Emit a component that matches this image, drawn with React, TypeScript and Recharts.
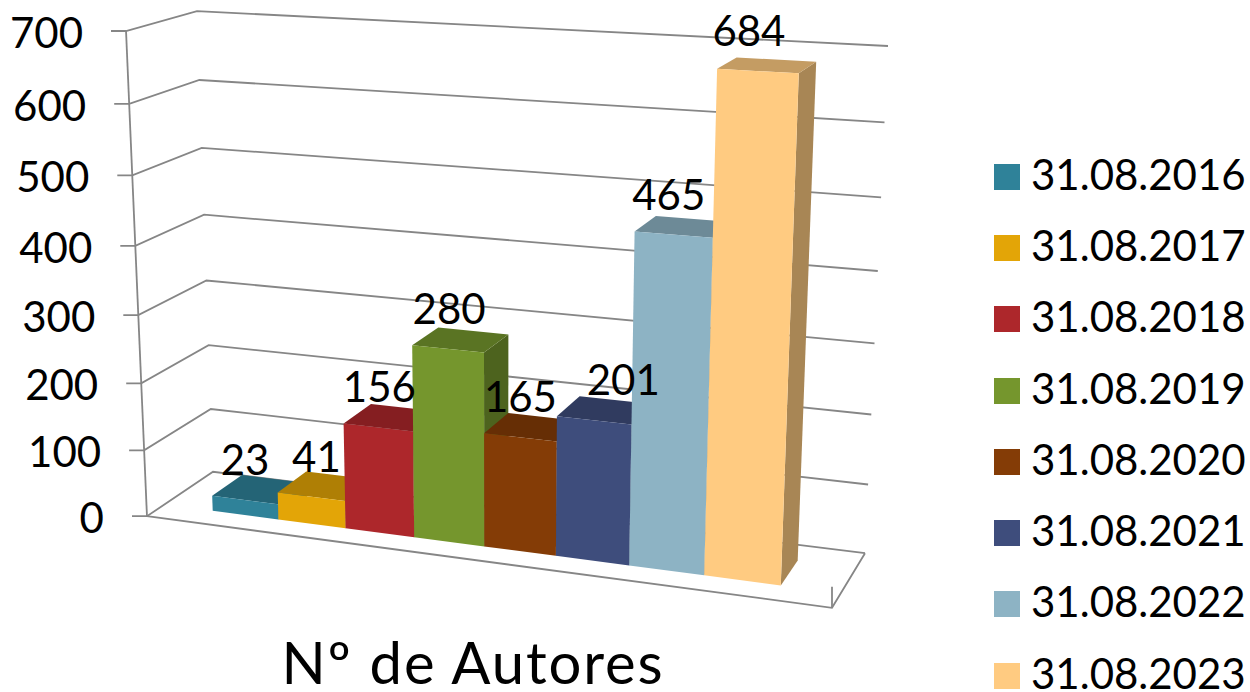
import React from 'react';
import { BarChart, Bar, XAxis, YAxis, CartesianGrid, Legend } from 'recharts';

const seriesNames = ['31.08.2016','31.08.2017','31.08.2018','31.08.2019','31.08.2020','31.08.2021','31.08.2022','31.08.2023'];
const seriesValues = [23, 41, 156, 280, 165, 201, 465, 684];
const seriesColors = ['#2F8299','#E3A507','#AD272B','#75962D','#843C06','#3E4D7C','#8DB3C4','#FFCB81'];
const categoryName = 'Nº de Autores';
const valueTicks = [0,100,200,300,400,500,600,700];
const labelNudgeX = [0, 5, 1, 1, 0, 29, -5, -9];

const FONT = 'Lato, sans-serif';
const W = 1250, H = 692;
const PLOT = { left: 147, right: 832, top: 31, bottom: 516 };
const GRID = '#868686';
const DEPTH = [0.255, 0.72];

const row: Record<string, any> = { name: categoryName };
seriesNames.forEach((n, i) => { row[n] = seriesValues[i]; });
const data = [row];

// camera calibration: cube corners (u, v, w) -> picture
const calib: number[][] = [
  [0,0,0,147,516],[1,0,0,832,608],[0,0,1,213,472],[1,0,1,865,553],
  [0,1,0,126,31],[0,1,1,197,11],[1,1,1,888,46],
];
function solveCamera(): number[] {
  const A: number[][] = [], b: number[] = [];
  calib.forEach(([u,v,w,x,y]) => {
    A.push([u,v,w,1,0,0,0,0,-x*u,-x*v,-x*w]); b.push(x);
    A.push([0,0,0,0,u,v,w,1,-y*u,-y*v,-y*w]); b.push(y);
  });
  const n = 11;
  const M: number[][] = [];
  for (let i = 0; i < n; i++) {
    const r: number[] = [];
    for (let j = 0; j < n; j++) r.push(A.reduce((s, a) => s + a[i]*a[j], 0));
    r.push(A.reduce((s, a, k) => s + a[i]*b[k], 0));
    M.push(r);
  }
  for (let i = 0; i < n; i++) {
    let p = i;
    for (let k = i+1; k < n; k++) if (Math.abs(M[k][i]) > Math.abs(M[p][i])) p = k;
    [M[i], M[p]] = [M[p], M[i]];
    for (let k = 0; k < n; k++) {
      if (k === i) continue;
      const f = M[k][i] / M[i][i];
      for (let j = i; j <= n; j++) M[k][j] -= f * M[i][j];
    }
  }
  return M.map((r, i) => r[n] / r[i]);
}
const C = solveCamera();
function project(u: number, v: number, w: number): [number, number] {
  const d = C[8]*u + C[9]*v + C[10]*w + 1;
  return [(C[0]*u + C[1]*v + C[2]*w + C[3]) / d, (C[4]*u + C[5]*v + C[6]*w + C[7]) / d];
}
const toU = (x: number) => (x - PLOT.left) / (PLOT.right - PLOT.left);
const toV = (y: number) => (PLOT.bottom - y) / (PLOT.bottom - PLOT.top);
const pts = (a: [number, number][]) => a.map((p) => p[0].toFixed(1) + ',' + p[1].toFixed(1)).join(' ');

function shade(hex: string, f: number) {
  const n = parseInt(hex.slice(1), 16);
  const c = [(n >> 16) & 255, (n >> 8) & 255, n & 255].map((x) => Math.round(x * f));
  return `rgb(${c[0]},${c[1]},${c[2]})`;
}

function Bar3D(props: any) {
  const { x, y, width, height, fill } = props;
  const u0 = toU(x), u1 = toU(x + width), v = toV(y), v0 = toV(y + height);
  const [w0, w1] = DEPTH;
  return (
    <g>
      <polygon fill={shade(fill, 0.66)} points={pts([project(u1,v0,w0), project(u1,v,w0), project(u1,v,w1), project(u1,v0,w1)])} />
      <polygon fill={shade(fill, 0.77)} points={pts([project(u0,v,w0), project(u1,v,w0), project(u1,v,w1), project(u0,v,w1)])} />
      <polygon fill={fill} points={pts([project(u0,v,w0), project(u1,v,w0), project(u1,v0,w0), project(u0,v0,w0)])} />
    </g>
  );
}

const makeLabel = (i: number) => (props: any) => {
  const { x, y, width, value } = props;
  const a = project(toU(x), toV(y), DEPTH[0]);
  const b = project(toU(x + width), toV(y), DEPTH[0]);
  return (
    <text x={(a[0] + b[0]) / 2 + labelNudgeX[i]} y={(a[1] + b[1]) / 2 - 41} textAnchor="middle" dominantBaseline="central"
      fontFamily={FONT} fontSize={42} fill="#000">{value}</text>
  );
};

function GridLine(props: any) {
  const v = toV(props.y1);
  const step = 1 / (valueTicks.length - 1);
  const fl = project(0, v, 0), bl = project(0, v, 1), br = project(1, v, 1);
  const up = project(0, Math.min(1, v + step), 0);
  return (
    <g fill="none" stroke={GRID} strokeWidth={1.8}>
      <polyline points={pts([[fl[0] - 15, fl[1]], fl, bl, br])} />
      <line x1={fl[0]} y1={fl[1]} x2={up[0]} y2={up[1]} />
      {v < 1e-6 && (
        <polyline points={pts([fl, project(1,0,0), project(1,0,1)])} />
      )}
      {v < 1e-6 && (
        <line x1={project(1,0,0)[0]} y1={project(1,0,0)[1]} x2={project(1,0,0)[0]} y2={project(1,0,0)[1] - 21} />
      )}
    </g>
  );
}

function YTick(props: any) {
  const p = project(0, toV(props.y), 0);
  return (
    <text x={p[0] - 43} y={p[1] + 1} textAnchor="end" dominantBaseline="central" fontFamily={FONT} fontSize={42} fill="#000">
      {props.payload.value}
    </text>
  );
}

function XTick(props: any) {
  return (
    <text x={473} y={661} textAnchor="middle" dominantBaseline="central" fontFamily={FONT} fontSize={58} letterSpacing={1.9} fill="#000">
      {props.payload.value}
    </text>
  );
}

function LegendBox(props: any) {
  return (
    <div style={{ fontFamily: FONT, fontSize: 42, color: '#000' }}>
      {(props.payload || []).map((e: any) => (
        <div key={e.value} style={{ height: 71.3, display: 'flex', alignItems: 'center', whiteSpace: 'nowrap' }}>
          <span style={{ width: 26, height: 26, background: e.color, marginRight: 11, flex: 'none' }} />
          <span style={{ position: 'relative', top: -3, left: 0 }}>{e.value}</span>
        </div>
      ))}
    </div>
  );
}

export default function App() {
  return (
    <div style={{ position: 'absolute', left: 0, top: 0, width: W, height: H, background: '#fff', overflow: 'hidden' }}>
      <BarChart width={W} height={H} data={data} margin={{ top: PLOT.top, left: 0, right: 163, bottom: 0 }}
        barCategoryGap="7.9%" barGap={0}>
        <CartesianGrid vertical={false} horizontal={(p: any) => <GridLine key={p.y1} {...p} />} />
        <XAxis dataKey="name" height={176} axisLine={false} tickLine={false} tick={XTick} interval={0} padding={{ left: 0, right: 4 }} />
        <YAxis width={147} domain={[0, 700]} ticks={valueTicks} axisLine={false} tickLine={false} tick={YTick} interval={0} />
        <Legend layout="vertical" align="right" verticalAlign="top" width={255} content={LegendBox}
          wrapperStyle={{ position: 'absolute', left: 994, top: 141, right: 'auto', width: 255 }} />
        {seriesNames.map((n, i) => (
          <Bar key={n} dataKey={n} fill={seriesColors[i]} isAnimationActive={false} shape={Bar3D} label={makeLabel(i)} />
        ))}
      </BarChart>
    </div>
  );
}
